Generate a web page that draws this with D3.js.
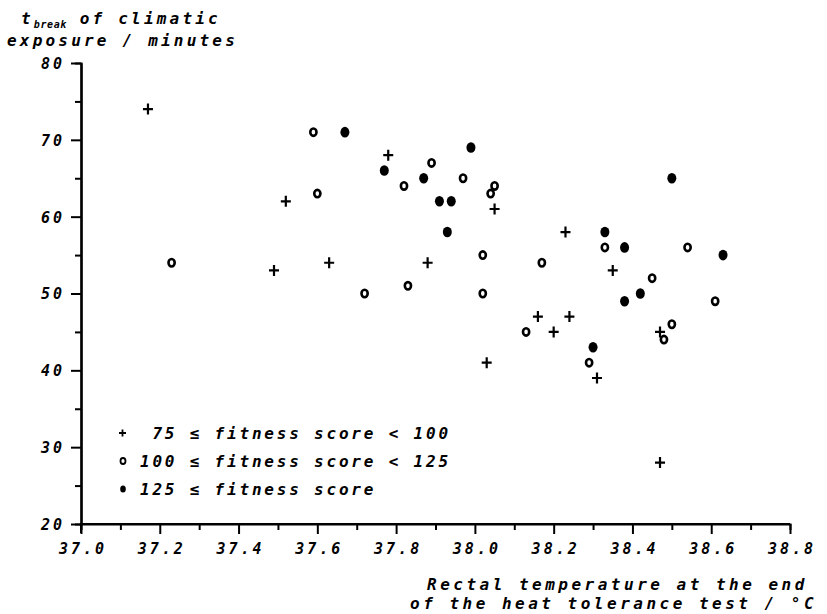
<!DOCTYPE html>
<html>
<head>
<meta charset="utf-8">
<script src="https://cdn.jsdelivr.net/npm/d3@7"></script>
<style>
  body { margin: 0; background: #fff; }
  text { font-family: "DejaVu Sans Mono", monospace; font-style: italic; font-weight: bold; fill: #000; }
</style>
</head>
<body>
<div id="chart"></div>
<script>
// fitness 75..100 (plus)
let plusTemp = [37.17, 37.49, 37.52, 37.63, 37.78, 37.88, 38.03, 38.05, 38.16, 38.20, 38.23, 38.24, 38.31, 38.35, 38.47, 38.47];
let plusBreak = [74, 53, 62, 54, 68, 54, 41, 61, 47, 45, 58, 47, 39, 53, 45, 28];

// fitness 100..125 (open circle)
let ringTemp = [37.23, 37.59, 37.60, 37.72, 37.82, 37.83, 37.89, 37.97, 38.02, 38.02, 38.04, 38.05, 38.13, 38.17, 38.29, 38.33, 38.45, 38.48, 38.50, 38.54, 38.61];
let ringBreak = [54, 71, 63, 50, 64, 51, 67, 65, 55, 50, 63, 64, 45, 54, 41, 56, 52, 44, 46, 56, 49];

// fitness >= 125 (filled)
let dotTemp = [37.67, 37.77, 37.87, 37.91, 37.93, 37.94, 37.99, 38.30, 38.33, 38.38, 38.38, 38.42, 38.50, 38.63];
let dotBreak = [71, 66, 65, 62, 58, 62, 69, 43, 58, 56, 49, 50, 65, 55];

let xMajor = [37.0, 37.2, 37.4, 37.6, 37.8, 38.0, 38.2, 38.4, 38.6, 38.8];
let xMinor = [37.1, 37.3, 37.5, 37.7, 37.9, 38.1, 38.3, 38.5, 38.7];
let yMajor = [20, 30, 40, 50, 60, 70, 80];
let yMinor = [25, 35, 45, 55, 65, 75];

let legendLabels = [" 75 \u2264 fitness score < 100", "100 \u2264 fitness score < 125", "125 \u2264 fitness score"];

let width = 827, height = 614;
let ls = 3; // letter spacing of the plotter-ish font

let svg = d3.select('#chart').append('svg')
  .attr('width', width)
  .attr('height', height);

let x = d3.scaleLinear().domain([37.0, 38.8]).range([81, 790]);
let y = d3.scaleLinear().domain([20, 80]).range([524, 63]);

function fmt(v) { return v.toFixed(1); }

// x axis
let gx = svg.append('g').attr('transform', 'translate(0,' + y(20) + ')');
gx.call(d3.axisBottom(x).tickValues(xMajor).tickSize(10).tickFormat(fmt).tickSizeOuter(0));
gx.append('g').call(d3.axisBottom(x).tickValues(xMinor).tickSize(6).tickFormat(''));
gx.selectAll('.domain').attr('stroke', '#000').attr('stroke-width', 2);
gx.selectAll('.tick line').attr('stroke', '#000').attr('stroke-width', 2);
gx.selectAll('.tick text')
  .attr('y', 30).attr('dy', 0).attr('dx', ls / 2)
  .style('font-size', '15px').style('letter-spacing', ls + 'px')
  .attr('font-family', null);

// y axis
let gy = svg.append('g').attr('transform', 'translate(' + x(37.0) + ',0)');
gy.call(d3.axisLeft(y).tickValues(yMajor).tickSize(10).tickFormat(d3.format('d')).tickSizeOuter(0));
gy.append('g').call(d3.axisLeft(y).tickValues(yMinor).tickSize(6).tickFormat(''));
gy.selectAll('.domain').attr('stroke', '#000').attr('stroke-width', 2.2);
gy.selectAll('.tick line').attr('stroke', '#000').attr('stroke-width', 2);
gy.selectAll('.tick text')
  .attr('x', -16).attr('dy', '0.36em')
  .style('font-size', '15px').style('letter-spacing', ls + 'px')
  .attr('font-family', null);
// axis stub below the origin
gy.append('line').attr('x1', 0).attr('x2', 0).attr('y1', y(20)).attr('y2', y(20) + 9)
  .attr('stroke', '#000').attr('stroke-width', 2);
gx.select('.domain').attr('d', 'M' + x(37.0) + ',0H' + x(38.8));

// marks
let plusData = plusTemp.map((t, i) => ({ t: t, v: plusBreak[i] }));
let ringData = ringTemp.map((t, i) => ({ t: t, v: ringBreak[i] }));
let dotData = dotTemp.map((t, i) => ({ t: t, v: dotBreak[i] }));

svg.selectAll('.plus')
  .data(plusData)
  .enter()
  .append('path').classed('plus', true)
  .attr('transform', d => 'translate(' + x(d.t) + ',' + y(d.v) + ')')
  .attr('d', 'M-5,0H5M0,-5.5V5.5')
  .attr('stroke', '#000').attr('stroke-width', 2.2);

svg.selectAll('.ring')
  .data(ringData)
  .enter()
  .append('ellipse').classed('ring', true)
  .attr('cx', d => x(d.t)).attr('cy', d => y(d.v))
  .attr('rx', 3.1).attr('ry', 3.7)
  .attr('fill', '#fff').attr('stroke', '#000').attr('stroke-width', 2.6);

svg.selectAll('.dot')
  .data(dotData)
  .enter()
  .append('ellipse').classed('dot', true)
  .attr('cx', d => x(d.t)).attr('cy', d => y(d.v))
  .attr('rx', 4.5).attr('ry', 5.3)
  .attr('fill', '#000');

// legend
let legendY = [433, 461, 489];
let lg = svg.append('g');
lg.append('path')
  .attr('d', 'M119,' + legendY[0] + 'h7M122.5,' + (legendY[0] - 3.5) + 'v7')
  .attr('stroke', '#000').attr('stroke-width', 1.8);
lg.append('ellipse').attr('cx', 123).attr('cy', legendY[1]).attr('rx', 2.5).attr('ry', 3)
  .attr('fill', '#fff').attr('stroke', '#000').attr('stroke-width', 1.8);
lg.append('ellipse').attr('cx', 123).attr('cy', legendY[2]).attr('rx', 2.8).attr('ry', 3.6)
  .attr('fill', '#000');
lg.selectAll('.ltext')
  .data(legendLabels)
  .enter()
  .append('text').classed('ltext', true)
  .attr('x', 140).attr('y', (d, i) => legendY[i] + 6)
  .attr('xml:space', 'preserve')
  .style('font-size', '16px').style('letter-spacing', '2.8px')
  .style('white-space', 'pre')
  .text(d => d);

// y axis title
let yt = svg.append('text').attr('x', 21).attr('y', 24)
  .style('font-size', '16px').style('letter-spacing', '3.2px');
yt.append('tspan').text('t');
yt.append('tspan').attr('dy', 4).style('font-size', '10px')
  .style('letter-spacing', '0.6px').text('break');
yt.append('tspan').attr('dy', -4).text(' of climatic');
svg.append('text').attr('x', 7).attr('y', 46)
  .style('font-size', '16px').style('letter-spacing', '3.2px')
  .text('exposure / minutes');

// x axis title
svg.append('text').attr('x', 427).attr('y', 590)
  .style('font-size', '16px').style('letter-spacing', '3.5px')
  .text('Rectal temperature at the end');
svg.append('text').attr('x', 410).attr('y', 609)
  .style('font-size', '16px').style('letter-spacing', '3.5px')
  .text('of the heat tolerance test / \u00b0C');
</script>
</body>
</html>
